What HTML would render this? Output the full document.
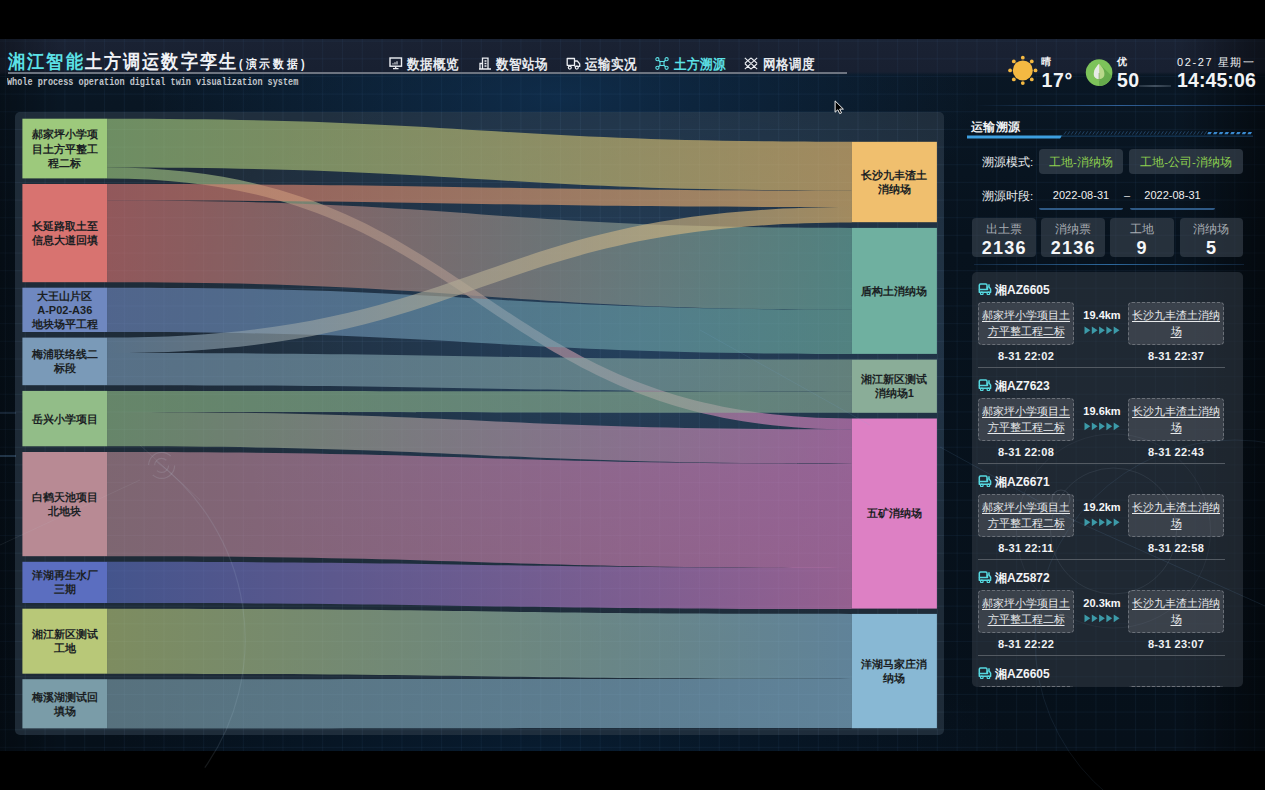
<!DOCTYPE html><html><head><meta charset="utf-8"><style>
*{box-sizing:border-box}
html,body{margin:0;padding:0}
body{width:1265px;height:790px;overflow:hidden;position:relative;background:#000;font-family:"Liberation Sans",sans-serif;color:#fff}
.dash{position:absolute;left:0;top:39px;width:1265px;height:712px;overflow:hidden;
background:
 linear-gradient(180deg,#1a2233 0px,#182031 33px,rgba(24,32,49,0) 36px),
 radial-gradient(ellipse 420px 170px at 560px 60px, rgba(20,62,105,0.55), rgba(20,62,105,0) 100%),
 radial-gradient(ellipse 450px 120px at 560px 712px, rgba(10,40,70,0.5), rgba(10,40,70,0) 100%),
 linear-gradient(180deg,#0a1826 0px,#07121d 200px,#06101a 712px);}
.grid{position:absolute;left:0;top:39px;width:1265px;height:712px;
background-image:linear-gradient(90deg,rgba(70,120,170,0.085) 1px,transparent 1px),linear-gradient(0deg,rgba(70,120,170,0.085) 1px,transparent 1px);
background-size:19.84px 17.67px;background-position:4.9px 2.62px}
.grid2{position:absolute;left:15px;top:112px;width:929px;height:623px;border-radius:5px;background-image:linear-gradient(90deg,rgba(150,190,230,0.055) 1px,transparent 1px),linear-gradient(0deg,rgba(150,190,230,0.055) 1px,transparent 1px);background-size:19.84px 17.67px;background-position:-10.1px 0.3px}
.abs{position:absolute}
.title{position:absolute;left:8px;top:49px;font-size:19px;font-weight:bold;letter-spacing:2.3px;white-space:nowrap;color:#f0f2f6;transform-origin:0 0;transform:scaleX(0.9)}
.title .c{color:#5ce1e6}
.title small{font-size:12px;font-weight:bold;letter-spacing:3.4px;vertical-align:0px;margin-left:1px}
.sub{position:absolute;left:6.8px;top:76px;font-family:"Liberation Mono",monospace;font-size:10.5px;font-weight:bold;color:#c0c4ca;white-space:nowrap;transform-origin:0 0;transform:scaleX(0.811)}
.hline{position:absolute;left:8px;top:72px;width:839px;height:2px;background:#6d7480}
.nav{position:absolute;top:55.5px;font-size:14px;font-weight:bold;white-space:nowrap;color:#e8ebef;letter-spacing:0.6px;transform-origin:0 0;transform:scaleX(0.895)}
.nav.on{color:#5ce1e6}
.panel{position:absolute;left:15px;top:112px;width:929px;height:623px;border-radius:5px;background:radial-gradient(ellipse 470px 300px at 620px 230px,rgba(42,82,124,0.55),rgba(42,82,124,0) 100%),rgba(40,54,68,0.72)}
.sk{position:absolute;left:0;top:0}
.nl{position:absolute;font-size:11px;line-height:14.2px;font-weight:bold;color:#1b1f24;text-align:center;white-space:nowrap}
.rt{position:absolute;left:971px;top:119px;font-size:11.5px;line-height:17px;font-weight:bold;letter-spacing:0.3px;color:#f2f4f6}
.lbl{position:absolute;font-size:11.5px;color:#e6e9ec;white-space:nowrap}
.btn{position:absolute;top:149px;height:25px;border-radius:4px;background:rgba(70,80,92,0.55);color:#8fd14f;font-size:11.5px;text-align:center;line-height:27px}
.date{position:absolute;top:187px;height:23px;border-bottom:2px solid #2f5a86;font-size:11px;color:#f0f0f0;text-align:center;line-height:17px;border-radius:0 0 2px 2px}
.stat{position:absolute;top:218px;height:39px;width:63.5px;border-radius:4px;background:rgba(70,80,92,0.5);text-align:center}
.stat .l{font-size:12px;color:#a8adb3;margin-top:4px;line-height:14px}
.stat .v{font-size:18px;font-weight:bold;color:#f5f6f8;line-height:20px;letter-spacing:1.3px;margin-top:2px;padding-left:1px}
.list{position:absolute;left:972px;top:272px;width:271px;height:415px;border-radius:5px;background:rgba(56,64,74,0.5);overflow:hidden}
.it{position:absolute;left:0;width:271px;height:96px}
.plate{position:absolute;left:6px;top:-1px;font-size:12px;font-weight:bold;color:#f2f4f6;line-height:12px;white-space:nowrap}
.tk{display:inline-block;vertical-align:-1px;margin-right:3px}
.box{position:absolute;top:18px;height:43px;width:96px;border:1px dashed #6a7078;border-radius:4px;background:rgba(80,86,94,0.55);font-size:11.3px;color:#e8eaec;text-align:center;line-height:15.5px;padding-top:5px;white-space:nowrap}
.box u{text-decoration-thickness:1px;text-underline-offset:2px}
.b1{left:6px} .b2{left:156px}
.km{position:absolute;left:108px;top:25px;width:44px;text-align:center;font-size:11px;font-weight:bold;color:#f5f6f8}
.arr{position:absolute;left:112px;top:42px;width:37px;height:9px;line-height:0}
.tm{position:absolute;top:66px;width:96px;text-align:center;font-size:11px;font-weight:bold;color:#f0f2f4;letter-spacing:0.3px}
.t1{left:6px} .t2{left:156px}
.sep{position:absolute;left:6px;top:83px;width:247px;height:1px;background:#535a62}
.wx{position:absolute;font-weight:bold;color:#f2f4f6;white-space:nowrap}
</style></head><body>
<div class="dash"></div>
<div class="grid"></div>
<div class="abs" style="left:0;top:39px;width:1265px;height:712px;background:linear-gradient(90deg,rgba(0,0,0,0.3) 0px,rgba(0,0,0,0) 60px,rgba(0,0,0,0) 1180px,rgba(0,0,0,0.5) 1265px)"></div>

<div class="title"><span class="c">湘江智能</span>土方调运数字孪生<small>(演示数据)</small></div>
<div class="hline"></div>
<div class="sub">Whole process operation digital twin visualization system</div>

<svg class="abs" style="left:389px;top:57px" width="14" height="13" viewBox="0 0 14 13"><rect x="1" y="1" width="11.5" height="8.2" fill="none" stroke="#eceef2" stroke-width="1.4"/><path d="M4 7.5v-1.2M6 7.5v-2.2M8 7.5v-3.2" stroke="#eceef2" stroke-width="1.1"/><path d="M6.7 9.5v1.6M4 11.6h5.5" stroke="#eceef2" stroke-width="1.3"/></svg>
<div class="nav" style="left:406.5px">数据概览</div>
<svg class="abs" style="left:478px;top:57px" width="14" height="13" viewBox="0 0 14 13"><path d="M1 12h12M4.5 12V1.2h5.5V12M2 12V6.5h2.5M6.5 4h2M6.5 6.5h2M6.5 9h2" fill="none" stroke="#eceef2" stroke-width="1.3"/></svg>
<div class="nav" style="left:495.5px">数智站场</div>
<svg class="abs" style="left:566px;top:57px" width="15" height="13" viewBox="0 0 15 13"><path d="M1.2 1.5h7.3v6.8H1.2zM8.5 4h2.8l2.4 2.8v2.6H8.5" fill="none" stroke="#eceef2" stroke-width="1.3" stroke-linejoin="round"/><circle cx="3.8" cy="10.6" r="1.5" fill="none" stroke="#eceef2" stroke-width="1.2"/><circle cx="10.8" cy="10.6" r="1.5" fill="none" stroke="#eceef2" stroke-width="1.2"/></svg>
<div class="nav" style="left:584.5px">运输实况</div>
<svg class="abs" style="left:655px;top:57px" width="14" height="13" viewBox="0 0 14 13"><path d="M3.2 3l7.6 7M10.8 3l-7.6 7" stroke="#5ce1e6" stroke-width="1.2"/><circle cx="2.4" cy="2.2" r="1.6" fill="#1a2232" stroke="#5ce1e6" stroke-width="1.1"/><circle cx="11.6" cy="2.2" r="1.6" fill="#1a2232" stroke="#5ce1e6" stroke-width="1.1"/><circle cx="2.4" cy="10.8" r="1.6" fill="#1a2232" stroke="#5ce1e6" stroke-width="1.1"/><circle cx="11.6" cy="10.8" r="1.6" fill="#1a2232" stroke="#5ce1e6" stroke-width="1.1"/><rect x="5" y="4.5" width="4" height="4" fill="#1a2232" stroke="#5ce1e6" stroke-width="1.1"/></svg>
<div class="nav on" style="left:673.5px">土方溯源</div>
<svg class="abs" style="left:744px;top:57px" width="14" height="13" viewBox="0 0 14 13"><path d="M0.8 0.8L13.2 12.2M13.2 0.8L0.8 12.2M0.8 6.5L4 3.3M0.8 6.5L4 9.7M13.2 6.5L10 3.3M13.2 6.5L10 9.7M7 0.8L3.6 4M7 0.8L10.4 4M7 12.2L3.6 9M7 12.2L10.4 9" stroke="#eceef2" stroke-width="1.1" fill="none"/></svg>
<div class="nav" style="left:762.5px">网格调度</div>

<svg class="abs" style="left:1007px;top:55px" width="32" height="32" viewBox="0 0 32 32"><circle cx="15.8" cy="15.4" r="10" fill="#f5b942"/><circle cx="28.50" cy="15.40" r="1.9" fill="#f5b942"/><circle cx="24.78" cy="24.38" r="1.9" fill="#f5b942"/><circle cx="15.80" cy="28.10" r="1.9" fill="#f5b942"/><circle cx="6.82" cy="24.38" r="1.9" fill="#f5b942"/><circle cx="3.10" cy="15.40" r="1.9" fill="#f5b942"/><circle cx="6.82" cy="6.42" r="1.9" fill="#f5b942"/><circle cx="15.80" cy="2.70" r="1.9" fill="#f5b942"/><circle cx="24.78" cy="6.42" r="1.9" fill="#f5b942"/></svg>
<div class="wx" style="left:1041px;top:55px;font-size:10px">晴</div>
<div class="wx" style="left:1041.5px;top:69px;font-size:19.5px;letter-spacing:0.6px">17°</div>
<svg class="abs" style="left:1085px;top:59px" width="28" height="28" viewBox="0 0 28 28"><defs><clipPath id="lc"><circle cx="14.1" cy="13.6" r="13.3"/></clipPath></defs><circle cx="14.1" cy="13.6" r="13.3" fill="#7dc35a"/><path d="M14.1 4.8 L28 18 L28 28 L14 28 Z" fill="#66ab4c" clip-path="url(#lc)"/><path d="M14.1 4.8 C10 9 8.8 12 8.8 15 C8.8 18.2 11 20 14.1 20 C17.2 20 19.4 18.2 19.4 15 C19.4 12 18.2 9 14.1 4.8Z" fill="#b8d88a"/><path d="M14.1 4.8 C10 9 8.8 12 8.8 15 C8.8 18.2 11 20 14.1 20Z" fill="#e6eae6"/><path d="M14.1 14v8" stroke="#8aa870" stroke-width="0.8"/></svg>
<div class="wx" style="left:1117px;top:55px;font-size:10px">优</div>
<div class="wx" style="left:1117px;top:69px;font-size:19.5px;letter-spacing:0.3px">50</div>
<div class="wx" style="left:1177px;top:55px;font-size:11px;font-weight:normal;letter-spacing:1.6px">02-27 星期一</div>
<div class="abs" style="left:1139px;top:84.8px;width:32px;height:2px;background:linear-gradient(90deg,rgba(90,105,120,0.35),rgba(90,105,120,0.7),rgba(90,105,120,0.35))"></div>
<div class="abs" style="left:975px;top:105px;width:290px;height:1px;background:linear-gradient(90deg,rgba(40,90,150,0),rgba(60,120,190,0.75) 50%,rgba(40,90,150,0.3))"></div>
<div class="wx" style="left:1177px;top:69px;font-size:19.5px;letter-spacing:0.1px">14:45:06</div>

<div class="panel"></div>
<div class="grid2"></div>
<svg class="sk" width="1265" height="790" viewBox="0 0 1265 790"><defs><linearGradient id="g0" gradientUnits="userSpaceOnUse" x1="107.2" y1="0" x2="851.7" y2="0"><stop offset="0" stop-color="#9dc97c"/><stop offset="1" stop-color="#f0bf6e"/></linearGradient><linearGradient id="g1" gradientUnits="userSpaceOnUse" x1="107.2" y1="0" x2="851.7" y2="0"><stop offset="0" stop-color="#9dc97c"/><stop offset="1" stop-color="#dd80c4"/></linearGradient><linearGradient id="g2" gradientUnits="userSpaceOnUse" x1="107.2" y1="0" x2="851.7" y2="0"><stop offset="0" stop-color="#d87370"/><stop offset="1" stop-color="#f0bf6e"/></linearGradient><linearGradient id="g3" gradientUnits="userSpaceOnUse" x1="107.2" y1="0" x2="851.7" y2="0"><stop offset="0" stop-color="#d87370"/><stop offset="1" stop-color="#6fb0a0"/></linearGradient><linearGradient id="g4" gradientUnits="userSpaceOnUse" x1="107.2" y1="0" x2="851.7" y2="0"><stop offset="0" stop-color="#6f88c0"/><stop offset="1" stop-color="#6fb0a0"/></linearGradient><linearGradient id="g5" gradientUnits="userSpaceOnUse" x1="107.2" y1="0" x2="851.7" y2="0"><stop offset="0" stop-color="#7a9ab8"/><stop offset="1" stop-color="#f0bf6e"/></linearGradient><linearGradient id="g6" gradientUnits="userSpaceOnUse" x1="107.2" y1="0" x2="851.7" y2="0"><stop offset="0" stop-color="#7a9ab8"/><stop offset="1" stop-color="#8aad98"/></linearGradient><linearGradient id="g7" gradientUnits="userSpaceOnUse" x1="107.2" y1="0" x2="851.7" y2="0"><stop offset="0" stop-color="#92bd88"/><stop offset="1" stop-color="#8aad98"/></linearGradient><linearGradient id="g8" gradientUnits="userSpaceOnUse" x1="107.2" y1="0" x2="851.7" y2="0"><stop offset="0" stop-color="#92bd88"/><stop offset="1" stop-color="#dd80c4"/></linearGradient><linearGradient id="g9" gradientUnits="userSpaceOnUse" x1="107.2" y1="0" x2="851.7" y2="0"><stop offset="0" stop-color="#b88a94"/><stop offset="1" stop-color="#dd80c4"/></linearGradient><linearGradient id="g10" gradientUnits="userSpaceOnUse" x1="107.2" y1="0" x2="851.7" y2="0"><stop offset="0" stop-color="#5b6ec0"/><stop offset="1" stop-color="#dd80c4"/></linearGradient><linearGradient id="g11" gradientUnits="userSpaceOnUse" x1="107.2" y1="0" x2="851.7" y2="0"><stop offset="0" stop-color="#b8c878"/><stop offset="1" stop-color="#88b8d4"/></linearGradient><linearGradient id="g12" gradientUnits="userSpaceOnUse" x1="107.2" y1="0" x2="851.7" y2="0"><stop offset="0" stop-color="#7a9ca8"/><stop offset="1" stop-color="#88b8d4"/></linearGradient></defs><path d="M107.2,118.7 C479.5,118.7 479.5,141.8 851.7,141.8 L851.7,190.6 C479.5,190.6 479.5,167.5 107.2,167.5 Z" fill="url(#g0)" fill-opacity="0.62"/><path d="M107.2,167.5 C479.5,167.5 479.5,418.5 851.7,418.5 L851.7,429.4 C479.5,429.4 479.5,178.4 107.2,178.4 Z" fill="url(#g1)" fill-opacity="0.62"/><path d="M107.2,184.0 C479.5,184.0 479.5,190.6 851.7,190.6 L851.7,207.1 C479.5,207.1 479.5,200.5 107.2,200.5 Z" fill="url(#g2)" fill-opacity="0.62"/><path d="M107.2,200.5 C479.5,200.5 479.5,227.9 851.7,227.9 L851.7,309.6 C479.5,309.6 479.5,282.2 107.2,282.2 Z" fill="url(#g3)" fill-opacity="0.62"/><path d="M107.2,287.7 C479.5,287.7 479.5,309.6 851.7,309.6 L851.7,353.9 C479.5,353.9 479.5,332.0 107.2,332.0 Z" fill="url(#g4)" fill-opacity="0.62"/><path d="M107.2,337.6 C479.5,337.6 479.5,207.1 851.7,207.1 L851.7,222.6 C479.5,222.6 479.5,353.1 107.2,353.1 Z" fill="url(#g5)" fill-opacity="0.62"/><path d="M107.2,353.1 C479.5,353.1 479.5,359.6 851.7,359.6 L851.7,391.7 C479.5,391.7 479.5,385.2 107.2,385.2 Z" fill="url(#g6)" fill-opacity="0.62"/><path d="M107.2,390.9 C479.5,390.9 479.5,391.7 851.7,391.7 L851.7,412.8 C479.5,412.8 479.5,412.0 107.2,412.0 Z" fill="url(#g7)" fill-opacity="0.62"/><path d="M107.2,412.0 C479.5,412.0 479.5,429.4 851.7,429.4 L851.7,463.7 C479.5,463.7 479.5,446.3 107.2,446.3 Z" fill="url(#g8)" fill-opacity="0.62"/><path d="M107.2,452.0 C479.5,452.0 479.5,463.7 851.7,463.7 L851.7,567.9 C479.5,567.9 479.5,556.2 107.2,556.2 Z" fill="url(#g9)" fill-opacity="0.62"/><path d="M107.2,561.8 C479.5,561.8 479.5,567.9 851.7,567.9 L851.7,609.1 C479.5,609.1 479.5,603.0 107.2,603.0 Z" fill="url(#g10)" fill-opacity="0.62"/><path d="M107.2,608.7 C479.5,608.7 479.5,613.9 851.7,613.9 L851.7,678.9 C479.5,678.9 479.5,673.7 107.2,673.7 Z" fill="url(#g11)" fill-opacity="0.62"/><path d="M107.2,679.2 C479.5,679.2 479.5,678.9 851.7,678.9 L851.7,728.1 C479.5,728.1 479.5,728.4 107.2,728.4 Z" fill="url(#g12)" fill-opacity="0.62"/><rect x="22.4" y="118.7" width="84.8" height="59.7" fill="#9dc97c"/><rect x="22.4" y="184.0" width="84.8" height="98.2" fill="#d87370"/><rect x="22.4" y="287.7" width="84.8" height="44.3" fill="#6f88c0"/><rect x="22.4" y="337.6" width="84.8" height="47.6" fill="#7a9ab8"/><rect x="22.4" y="390.9" width="84.8" height="55.4" fill="#92bd88"/><rect x="22.4" y="452.0" width="84.8" height="104.2" fill="#b88a94"/><rect x="22.4" y="561.8" width="84.8" height="41.2" fill="#5b6ec0"/><rect x="22.4" y="608.7" width="84.8" height="65.0" fill="#b8c878"/><rect x="22.4" y="679.2" width="84.8" height="49.2" fill="#7a9ca8"/><rect x="851.7" y="141.8" width="85.2" height="80.4" fill="#f0bf6e"/><rect x="851.7" y="227.9" width="85.2" height="126.0" fill="#6fb0a0"/><rect x="851.7" y="359.6" width="85.2" height="53.2" fill="#8aad98"/><rect x="851.7" y="418.5" width="85.2" height="190.1" fill="#dd80c4"/><rect x="851.7" y="613.9" width="85.2" height="114.3" fill="#88b8d4"/></svg>
<div class="nl" style="left:22.4px;top:127.3px;width:84.8px">郝家坪小学项<br>目土方平整工<br>程二标</div><div class="nl" style="left:22.4px;top:218.9px;width:84.8px">长延路取土至<br>信息大道回填</div><div class="nl" style="left:22.4px;top:288.6px;width:84.8px">大王山片区<br>A-P02-A36<br>地块场平工程</div><div class="nl" style="left:22.4px;top:347.2px;width:84.8px">梅浦联络线二<br>标段</div><div class="nl" style="left:22.4px;top:411.5px;width:84.8px">岳兴小学项目</div><div class="nl" style="left:22.4px;top:489.9px;width:84.8px">白鹤天池项目<br>北地块</div><div class="nl" style="left:22.4px;top:568.2px;width:84.8px">洋湖再生水厂<br>三期</div><div class="nl" style="left:22.4px;top:627.0px;width:84.8px">湘江新区测试<br>工地</div><div class="nl" style="left:22.4px;top:689.6px;width:84.8px">梅溪湖测试回<br>填场</div><div class="nl" style="left:851.7px;top:167.8px;width:85.2px">长沙九丰渣土<br>消纳场</div><div class="nl" style="left:851.7px;top:283.8px;width:85.2px">盾构土消纳场</div><div class="nl" style="left:851.7px;top:372.0px;width:85.2px">湘江新区测试<br>消纳场1</div><div class="nl" style="left:851.7px;top:506.4px;width:85.2px">五矿消纳场</div><div class="nl" style="left:851.7px;top:656.8px;width:85.2px">洋湖马家庄消<br>纳场</div>

<div class="rt">运输溯源</div>
<svg class="abs" style="left:960px;top:128px" width="300" height="14" viewBox="960 128 300 14"><path d="M967 135.5H1062.5L1060 138.6H967Z" fill="#3d9fe0"/><rect x="1061" y="135.6" width="192" height="1.1" fill="#173d5e"/><path d="M1064.0 134.6L1066.2 131.3" stroke="#24486c" stroke-width="0.9"/><path d="M1067.6 134.6L1069.8 131.3" stroke="#24486c" stroke-width="0.9"/><path d="M1071.2 134.6L1073.4 131.3" stroke="#24486c" stroke-width="0.9"/><path d="M1074.8 134.6L1077.0 131.3" stroke="#24486c" stroke-width="0.9"/><path d="M1078.4 134.6L1080.6 131.3" stroke="#24486c" stroke-width="0.9"/><path d="M1082.0 134.6L1084.2 131.3" stroke="#24486c" stroke-width="0.9"/><path d="M1085.6 134.6L1087.8 131.3" stroke="#24486c" stroke-width="0.9"/><path d="M1089.2 134.6L1091.4 131.3" stroke="#24486c" stroke-width="0.9"/><path d="M1092.8 134.6L1095.0 131.3" stroke="#24486c" stroke-width="0.9"/><path d="M1096.4 134.6L1098.6 131.3" stroke="#24486c" stroke-width="0.9"/><path d="M1100.0 134.6L1102.2 131.3" stroke="#24486c" stroke-width="0.9"/><path d="M1103.6 134.6L1105.8 131.3" stroke="#24486c" stroke-width="0.9"/><path d="M1107.2 134.6L1109.4 131.3" stroke="#24486c" stroke-width="0.9"/><path d="M1110.8 134.6L1113.0 131.3" stroke="#24486c" stroke-width="0.9"/><path d="M1114.4 134.6L1116.6 131.3" stroke="#24486c" stroke-width="0.9"/><path d="M1118.0 134.6L1120.2 131.3" stroke="#24486c" stroke-width="0.9"/><path d="M1121.6 134.6L1123.8 131.3" stroke="#24486c" stroke-width="0.9"/><path d="M1125.2 134.6L1127.4 131.3" stroke="#24486c" stroke-width="0.9"/><path d="M1128.8 134.6L1131.0 131.3" stroke="#24486c" stroke-width="0.9"/><path d="M1132.4 134.6L1134.6 131.3" stroke="#24486c" stroke-width="0.9"/><path d="M1136.0 134.6L1138.2 131.3" stroke="#24486c" stroke-width="0.9"/><path d="M1139.6 134.6L1141.8 131.3" stroke="#24486c" stroke-width="0.9"/><path d="M1143.2 134.6L1145.4 131.3" stroke="#24486c" stroke-width="0.9"/><path d="M1146.8 134.6L1149.0 131.3" stroke="#24486c" stroke-width="0.9"/><path d="M1150.4 134.6L1152.6 131.3" stroke="#24486c" stroke-width="0.9"/><path d="M1154.0 134.6L1156.2 131.3" stroke="#24486c" stroke-width="0.9"/><path d="M1157.6 134.6L1159.8 131.3" stroke="#24486c" stroke-width="0.9"/><path d="M1161.2 134.6L1163.4 131.3" stroke="#24486c" stroke-width="0.9"/><path d="M1164.8 134.6L1167.0 131.3" stroke="#24486c" stroke-width="0.9"/><path d="M1168.4 134.6L1170.6 131.3" stroke="#24486c" stroke-width="0.9"/><path d="M1172.0 134.6L1174.2 131.3" stroke="#24486c" stroke-width="0.9"/><path d="M1175.6 134.6L1177.8 131.3" stroke="#24486c" stroke-width="0.9"/><path d="M1179.2 134.6L1181.4 131.3" stroke="#24486c" stroke-width="0.9"/><path d="M1182.8 134.6L1185.0 131.3" stroke="#24486c" stroke-width="0.9"/><path d="M1186.4 134.6L1188.6 131.3" stroke="#24486c" stroke-width="0.9"/><path d="M1190.0 134.6L1192.2 131.3" stroke="#24486c" stroke-width="0.9"/><path d="M1193.6 134.6L1195.8 131.3" stroke="#24486c" stroke-width="0.9"/><path d="M1197.2 134.6L1199.4 131.3" stroke="#24486c" stroke-width="0.9"/><path d="M1200.8 134.6L1203.0 131.3" stroke="#24486c" stroke-width="0.9"/><path d="M1204.4 134.6L1206.6 131.3" stroke="#24486c" stroke-width="0.9"/><path d="M1208.4 132H1211.8L1210.6 134.2H1207.2Z" fill="#3a8ad0"/><path d="M1214.2 132H1217.6L1216.4 134.2H1213.0Z" fill="#3a8ad0"/><path d="M1219.9 132H1223.3L1222.1 134.2H1218.7Z" fill="#3a8ad0"/><path d="M1225.6 132H1229.0L1227.8 134.2H1224.4Z" fill="#3a8ad0"/><path d="M1231.4 132H1234.8L1233.6 134.2H1230.2Z" fill="#3a8ad0"/><path d="M1237.2 132H1240.6L1239.4 134.2H1236.0Z" fill="#3a8ad0"/><path d="M1242.9 132H1246.3L1245.1 134.2H1241.7Z" fill="#3a8ad0"/><path d="M1248.6 132H1252.0L1250.8 134.2H1247.4Z" fill="#3a8ad0"/></svg>
<div class="lbl" style="left:982px;top:155px">溯源模式:</div>
<div class="btn" style="left:1039px;width:84px">工地-消纳场</div>
<div class="btn" style="left:1129px;width:114px">工地-公司-消纳场</div>
<div class="lbl" style="left:982px;top:189px">溯源时段:</div>
<div class="date" style="left:1039px;width:84px">2022-08-31</div>
<div class="abs" style="left:1124px;top:189px;font-size:11px;color:#ddd">–</div>
<div class="date" style="left:1130px;width:85px">2022-08-31</div>
<div class="stat" style="left:972px"><div class="l">出土票</div><div class="v">2136</div></div>
<div class="stat" style="left:1041px"><div class="l">消纳票</div><div class="v">2136</div></div>
<div class="stat" style="left:1110px"><div class="l">工地</div><div class="v">9</div></div>
<div class="stat" style="left:1179.5px"><div class="l">消纳场</div><div class="v">5</div></div>
<div class="abs" style="left:974px;top:264px;width:270px;height:1px;background:linear-gradient(90deg,rgba(60,120,190,0.2),rgba(60,140,210,0.7),rgba(60,120,190,0.2))"></div>
<div class="list">
<div class="it" style="top:12px"><div class="plate"><span class="tk"><svg width="14" height="12" viewBox="0 0 14 12"><path d="M1.3 6.6V2.2Q1.3 1 2.5 1H7.8Q9 1 9 2.2V6.6" fill="none" stroke="#56d8e0" stroke-width="1.5"/><path d="M11 1.2V3.8L12.6 6.2V9.2H1.3V6.4H9.5V3.5" fill="none" stroke="#56d8e0" stroke-width="1.5" stroke-linejoin="round"/><circle cx="3.8" cy="10.4" r="1.3" fill="none" stroke="#56d8e0" stroke-width="1.2"/><circle cx="10.4" cy="10.4" r="1.3" fill="none" stroke="#56d8e0" stroke-width="1.2"/></svg></span>湘AZ6605</div><div class="box b1"><u>郝家坪小学项目土</u><br><u>方平整工程二标</u></div><div class="box b2"><u>长沙九丰渣土消纳</u><br><u>场</u></div><div class="km">19.4km</div><div class="arr"><svg width="37" height="9" viewBox="0 0 37 9"><path d="M0.5 0.4 L6.3 4.3 L0.5 8.2Z" fill="#3c9aa8"/><path d="M7.8 0.4 L13.6 4.3 L7.8 8.2Z" fill="#3c9aa8"/><path d="M15.1 0.4 L20.9 4.3 L15.1 8.2Z" fill="#3c9aa8"/><path d="M22.4 0.4 L28.2 4.3 L22.4 8.2Z" fill="#3c9aa8"/><path d="M29.7 0.4 L35.5 4.3 L29.7 8.2Z" fill="#3c9aa8"/></svg></div><div class="tm t1">8-31 22:02</div><div class="tm t2">8-31 22:37</div><div class="sep"></div></div><div class="it" style="top:108px"><div class="plate"><span class="tk"><svg width="14" height="12" viewBox="0 0 14 12"><path d="M1.3 6.6V2.2Q1.3 1 2.5 1H7.8Q9 1 9 2.2V6.6" fill="none" stroke="#56d8e0" stroke-width="1.5"/><path d="M11 1.2V3.8L12.6 6.2V9.2H1.3V6.4H9.5V3.5" fill="none" stroke="#56d8e0" stroke-width="1.5" stroke-linejoin="round"/><circle cx="3.8" cy="10.4" r="1.3" fill="none" stroke="#56d8e0" stroke-width="1.2"/><circle cx="10.4" cy="10.4" r="1.3" fill="none" stroke="#56d8e0" stroke-width="1.2"/></svg></span>湘AZ7623</div><div class="box b1"><u>郝家坪小学项目土</u><br><u>方平整工程二标</u></div><div class="box b2"><u>长沙九丰渣土消纳</u><br><u>场</u></div><div class="km">19.6km</div><div class="arr"><svg width="37" height="9" viewBox="0 0 37 9"><path d="M0.5 0.4 L6.3 4.3 L0.5 8.2Z" fill="#3c9aa8"/><path d="M7.8 0.4 L13.6 4.3 L7.8 8.2Z" fill="#3c9aa8"/><path d="M15.1 0.4 L20.9 4.3 L15.1 8.2Z" fill="#3c9aa8"/><path d="M22.4 0.4 L28.2 4.3 L22.4 8.2Z" fill="#3c9aa8"/><path d="M29.7 0.4 L35.5 4.3 L29.7 8.2Z" fill="#3c9aa8"/></svg></div><div class="tm t1">8-31 22:08</div><div class="tm t2">8-31 22:43</div><div class="sep"></div></div><div class="it" style="top:204px"><div class="plate"><span class="tk"><svg width="14" height="12" viewBox="0 0 14 12"><path d="M1.3 6.6V2.2Q1.3 1 2.5 1H7.8Q9 1 9 2.2V6.6" fill="none" stroke="#56d8e0" stroke-width="1.5"/><path d="M11 1.2V3.8L12.6 6.2V9.2H1.3V6.4H9.5V3.5" fill="none" stroke="#56d8e0" stroke-width="1.5" stroke-linejoin="round"/><circle cx="3.8" cy="10.4" r="1.3" fill="none" stroke="#56d8e0" stroke-width="1.2"/><circle cx="10.4" cy="10.4" r="1.3" fill="none" stroke="#56d8e0" stroke-width="1.2"/></svg></span>湘AZ6671</div><div class="box b1"><u>郝家坪小学项目土</u><br><u>方平整工程二标</u></div><div class="box b2"><u>长沙九丰渣土消纳</u><br><u>场</u></div><div class="km">19.2km</div><div class="arr"><svg width="37" height="9" viewBox="0 0 37 9"><path d="M0.5 0.4 L6.3 4.3 L0.5 8.2Z" fill="#3c9aa8"/><path d="M7.8 0.4 L13.6 4.3 L7.8 8.2Z" fill="#3c9aa8"/><path d="M15.1 0.4 L20.9 4.3 L15.1 8.2Z" fill="#3c9aa8"/><path d="M22.4 0.4 L28.2 4.3 L22.4 8.2Z" fill="#3c9aa8"/><path d="M29.7 0.4 L35.5 4.3 L29.7 8.2Z" fill="#3c9aa8"/></svg></div><div class="tm t1">8-31 22:11</div><div class="tm t2">8-31 22:58</div><div class="sep"></div></div><div class="it" style="top:300px"><div class="plate"><span class="tk"><svg width="14" height="12" viewBox="0 0 14 12"><path d="M1.3 6.6V2.2Q1.3 1 2.5 1H7.8Q9 1 9 2.2V6.6" fill="none" stroke="#56d8e0" stroke-width="1.5"/><path d="M11 1.2V3.8L12.6 6.2V9.2H1.3V6.4H9.5V3.5" fill="none" stroke="#56d8e0" stroke-width="1.5" stroke-linejoin="round"/><circle cx="3.8" cy="10.4" r="1.3" fill="none" stroke="#56d8e0" stroke-width="1.2"/><circle cx="10.4" cy="10.4" r="1.3" fill="none" stroke="#56d8e0" stroke-width="1.2"/></svg></span>湘AZ5872</div><div class="box b1"><u>郝家坪小学项目土</u><br><u>方平整工程二标</u></div><div class="box b2"><u>长沙九丰渣土消纳</u><br><u>场</u></div><div class="km">20.3km</div><div class="arr"><svg width="37" height="9" viewBox="0 0 37 9"><path d="M0.5 0.4 L6.3 4.3 L0.5 8.2Z" fill="#3c9aa8"/><path d="M7.8 0.4 L13.6 4.3 L7.8 8.2Z" fill="#3c9aa8"/><path d="M15.1 0.4 L20.9 4.3 L15.1 8.2Z" fill="#3c9aa8"/><path d="M22.4 0.4 L28.2 4.3 L22.4 8.2Z" fill="#3c9aa8"/><path d="M29.7 0.4 L35.5 4.3 L29.7 8.2Z" fill="#3c9aa8"/></svg></div><div class="tm t1">8-31 22:22</div><div class="tm t2">8-31 23:07</div><div class="sep"></div></div><div class="it" style="top:396px"><div class="plate"><span class="tk"><svg width="14" height="12" viewBox="0 0 14 12"><path d="M1.3 6.6V2.2Q1.3 1 2.5 1H7.8Q9 1 9 2.2V6.6" fill="none" stroke="#56d8e0" stroke-width="1.5"/><path d="M11 1.2V3.8L12.6 6.2V9.2H1.3V6.4H9.5V3.5" fill="none" stroke="#56d8e0" stroke-width="1.5" stroke-linejoin="round"/><circle cx="3.8" cy="10.4" r="1.3" fill="none" stroke="#56d8e0" stroke-width="1.2"/><circle cx="10.4" cy="10.4" r="1.3" fill="none" stroke="#56d8e0" stroke-width="1.2"/></svg></span>湘AZ6605</div><div class="box b1"><u>郝家坪小学项目土</u><br><u>方平整工程二标</u></div><div class="box b2"><u>长沙九丰渣土消纳</u><br><u>场</u></div></div>
</div>
<svg class="abs" style="left:0;top:0;pointer-events:none" width="1265" height="790" viewBox="0 0 1265 790">
<path d="M0 456H16" stroke="rgba(120,170,220,0.35)" stroke-width="1.5"/>
<path d="M0 413H16" stroke="rgba(120,170,220,0.25)" stroke-width="1.2"/>
<path d="M156.3 461.3A223.3 223.3 0 0 1 204.8 767.7" fill="none" stroke="rgba(190,210,230,0.12)" stroke-width="1.2"/>
<circle cx="161.6" cy="465.4" r="13" fill="none" stroke="rgba(200,210,225,0.16)" stroke-width="1.2" stroke-dasharray="30 11"/>
<circle cx="161.6" cy="465.4" r="7" fill="none" stroke="rgba(200,210,225,0.16)" stroke-width="1.2" stroke-dasharray="16 6"/>
<path d="M140 445L200 500M0 545L140 480" stroke="rgba(200,210,225,0.09)" stroke-width="1"/>
<circle cx="1061" cy="499" r="9" fill="none" stroke="rgba(190,210,230,0.13)" stroke-width="1.2"/>
<circle cx="1113.5" cy="531" r="63" fill="none" stroke="rgba(190,210,230,0.09)" stroke-width="1"/>
<circle cx="1113.5" cy="531" r="97" fill="none" stroke="rgba(190,210,230,0.06)" stroke-width="1"/>
<circle cx="1235" cy="640" r="200" fill="none" stroke="rgba(120,170,220,0.10)" stroke-width="1"/>
<path d="M940 447L1071 519M1071 519L1265 606M700 330L870 425" stroke="rgba(120,170,220,0.12)" stroke-width="1"/>
<path d="M835.1 100.9V112.2L837.8 109.8L839.7 113.6L841.6 112.8L839.7 109.1H843.4Z" fill="#000" stroke="#f0f0f0" stroke-width="1" stroke-linejoin="round"/>
</svg>
</body></html>
